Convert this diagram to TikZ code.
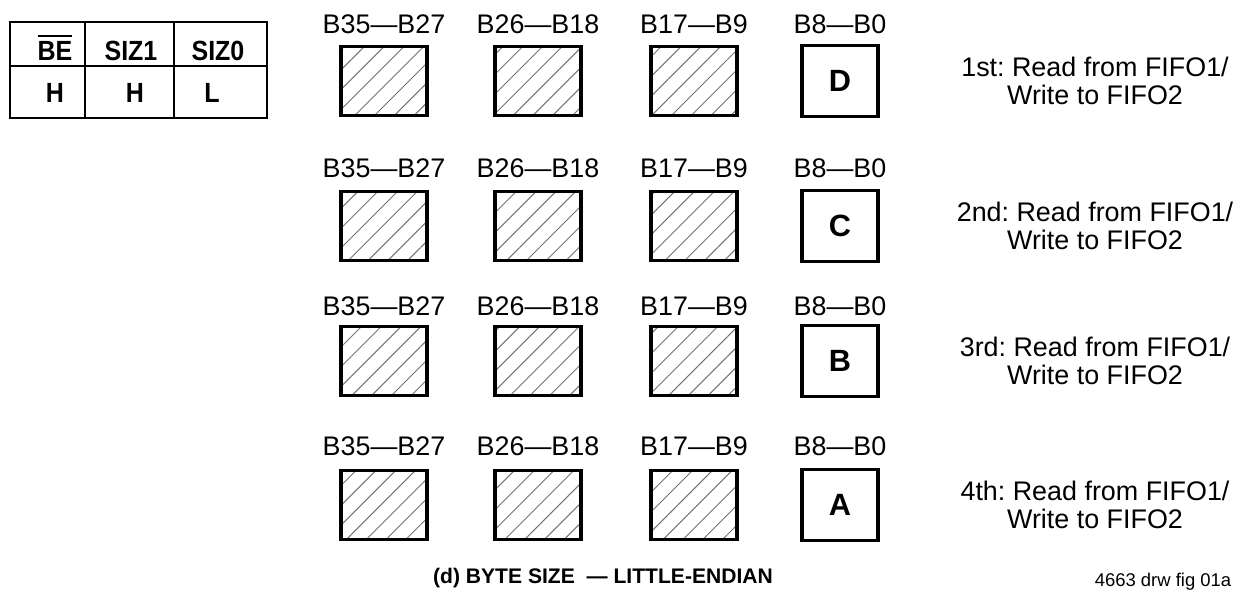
\documentclass[tikz,border=0pt]{standalone}
\usepackage{fontspec}
\setmainfont{Liberation Sans}
\newfontfamily\tablefont{Liberation Sans}[FakeStretch=0.9]
\usetikzlibrary{patterns.meta}
\frenchspacing

\newcommand{\barred}[1]{\vbox{\hrule height 1.3pt\kern 2pt\hbox{#1}}}

\tikzset{
  bytebox/.style={draw, line width=2.2pt, minimum width=1.72cm, minimum height=1.38cm, inner sep=0pt},
  hatched/.style={bytebox, pattern={Lines[angle=45,distance=0.28cm,line width=0.55pt]}, pattern color=black!55},
  lettbox/.style={bytebox, minimum width=1.52cm, minimum height=1.42cm, font=\fontsize{17.5}{18}\selectfont\bfseries},
  bitlabel/.style={anchor=base, inner sep=0pt, font=\fontsize{15.3}{17}\selectfont},
  steptext/.style={align=center, inner sep=0pt, font=\fontsize{15.3}{16}\selectfont},
  tabtext/.style={anchor=base, inner sep=0pt, font=\fontsize{15.8}{17}\tablefont\bfseries},
}

\begin{document}
\begin{tikzpicture}[x=0.02cm, y=-0.02cm]
  \useasboundingbox (0,0) rectangle (1241,589);

  % control table
  \draw[line width=1.1pt] (10,22) rectangle (267,118);
  \draw[line width=1.1pt] (85,22) -- (85,118);
  \draw[line width=1.1pt] (174,22) -- (174,118);
  \draw[line width=1.1pt] (10,66) -- (267,66);

  \node[tabtext] (be) at (55,60) {\barred{BE}};
  \node[tabtext] (siz1) at (131,60) {SIZ1};
  \node[tabtext] (siz0) at (218,60) {SIZ0};
  \node[tabtext] (valbe) at (55,102) {H};
  \node[tabtext] (valsiz1) at (135,102) {H};
  \node[tabtext] (valsiz0) at (212,102) {L};

  % byte lanes, one row per transfer
  \foreach \r/\ord/\lett/\ly/\by in {1/1st/D/33/81, 2/2nd/C/177/226, 3/3rd/B/315/361, 4/4th/A/455/505}{
    \foreach \c/\cx/\bits in {1/384/B35—B27, 2/538/B26—B18, 3/694/B17—B9}{
      \node[bitlabel] (lab\r\c) at (\cx,\ly) {\bits};
      \node[hatched] (box\r\c) at (\cx,\by) {};
    }
    \node[bitlabel] (lab\r4) at (840,\ly) {B8—B0};
    \node[lettbox] (box\r4) at (840,\by) {\lett};
    \node[steptext] (step\r) at (1095,\by) {\ord: Read from FIFO1/\\Write to FIFO2};
  }

  % caption
  \node[anchor=base, inner sep=0pt, font=\fontsize{12}{14}\selectfont\bfseries] (caption) at (603,583)
    {(d) BYTE SIZE \ — LITTLE-ENDIAN};
  \node[anchor=base, inner sep=0pt, font=\fontsize{10.5}{12}\selectfont] (fignum) at (1163,586) {4663 drw fig 01a};
\end{tikzpicture}
\end{document}
